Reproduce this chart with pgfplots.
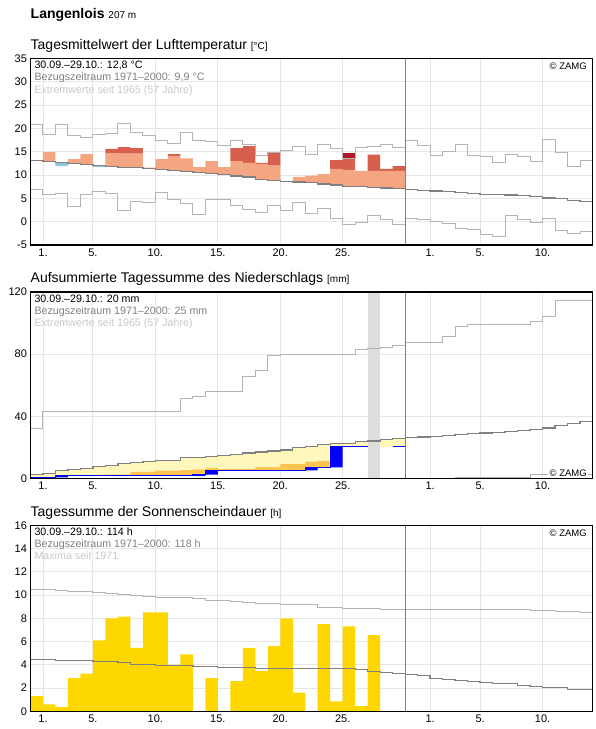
\documentclass[border=0pt]{standalone}
\usepackage{fontspec}
\setmainfont{Liberation Sans}
\usepackage{pgfplots}
\usepackage{pgfplotstable}
\pgfplotsset{compat=1.18}
\definecolor{tsal}{HTML}{F4A582}
\definecolor{tred}{HTML}{D6604D}
\definecolor{tcrim}{HTML}{B2182B}
\definecolor{tblue}{HTML}{92C5DE}
\definecolor{pyel}{HTML}{FFF7BC}
\definecolor{pora}{HTML}{FEC44F}
\definecolor{pblue}{HTML}{0000FF}
\definecolor{sun}{HTML}{FFD700}
\definecolor{meanc}{HTML}{808080}
\definecolor{extc}{HTML}{B4B4B4}
\definecolor{gridc}{HTML}{E6E6E6}
\definecolor{bandc}{HTML}{DDDDDD}
\definecolor{txtgray}{HTML}{808080}
\definecolor{txtlight}{HTML}{C8C8C8}

\pgfplotstableread{
x base blue sal red crim
-0.5 13.1 0 0 0 0
0.5 12.9 0 2.0 0 0
1.5 11.9 0.8 0 0 0
2.5 12.5 0 0.9 0 0
3.5 12.3 0 2.2 0 0
4.5 11.7 0.4 0 0 0
5.5 11.9 0 2.8 0.9 0
6.5 11.6 0 3.0 1.4 0
7.5 11.6 0 3.0 1.2 0
8.5 11.4 0 0.2 0 0
9.5 11.2 0 2.2 0 0
10.5 11.0 0 3.1 0.4 0
11.5 10.7 0 2.9 0 0
12.5 10.6 0 1.1 0 0
13.5 10.4 0 2.6 0 0
14.5 10.1 0 1.6 0 0
15.5 9.8 0 3.2 2.8 0
16.5 9.6 0 3.0 3.6 0
17.5 9.1 0 3.3 0.2 0
18.5 8.9 0 3.1 2.7 0
19.5 8.6 0 0 0 0
20.5 8.5 0 1.1 0 0
21.5 8.4 0 1.5 0 0
22.5 8.1 0 2.1 0 0
23.5 7.9 0 3.4 1.9 0
24.5 7.6 0 3.5 2.5 1.1
25.5 7.5 0 3.4 0 0
26.5 7.4 0 3.5 3.5 0
27.5 7.2 0 3.7 0.4 0
28.5 7.1 0 3.8 1.0 0
}\tempbars

\pgfplotstableread{
x base blue ora yel
-0.5 0 0.7 0 1.9
0.5 0.7 0 0 2.3
1.5 0.7 1.0 0 3.5
2.5 1.7 0 0 4.1
3.5 1.7 0 0 4.8
4.5 1.7 0 0 5.9
5.5 1.7 0 0.9 5.6
6.5 1.7 0 0.9 6.9
7.5 1.7 0 2.6 6.1
8.5 1.7 0 2.6 6.7
9.5 1.7 0 3.3 6.7
10.5 1.7 0 3.3 6.7
11.5 1.7 0 3.7 8.2
12.5 1.7 0.8 3.3 7.8
13.5 2.5 2.7 1.7 7.4
14.5 5.2 0 0.9 8.8
15.5 5.2 0 0.9 9.5
16.5 5.2 0 0.9 10.3
17.5 5.2 0 2.1 9.7
18.5 5.2 0 2.1 10.4
19.5 5.2 0 4.0 9.2
20.5 5.2 0 4.0 10.9
21.5 5.2 1.9 3.7 10.0
22.5 7.1 0 4.2 10.5
23.5 7.1 13.3 0 2.3
24.5 20.4 0 0 2.3
25.5 20.4 0 0 3.2
26.5 20.4 0 0 0
27.5 20.4 0 0 4.9
28.5 20.4 0 0 5.5
}\precbars

\pgfplotstableread{
x sun
-0.5 1.3
0.5 0.6
1.5 0.35
2.5 2.85
3.5 3.25
4.5 6.1
5.5 8.0
6.5 8.15
7.5 5.45
8.5 8.5
9.5 8.5
10.5 4.0
11.5 4.9
12.5 0
13.5 2.85
14.5 0
15.5 2.6
16.5 5.45
17.5 3.45
18.5 5.6
19.5 8.0
20.5 1.6
21.5 0
22.5 7.5
23.5 0.85
24.5 7.3
25.5 0.45
26.5 6.55
27.5 0
28.5 0
}\sunbars

\pgfplotsset{
 panelA/.style={
  scale only axis, width=562pt, height=186.5pt,
  xmin=-1, xmax=44, enlargelimits=false, anchor=south west,
  xtick={0,4,9,14,19,24,31,35,40},
  xticklabels={1.,5.,10.,15.,20.,25.,1.,5.,10.},
  major tick length=0pt, tick style={draw=none},
  grid=major, grid style={draw=gridc, line width=0.9pt},
  axis line style={draw=none},
  tick label style={font=\fontsize{11}{13}\selectfont},
  /pgf/number format/assume math mode=true,
 },
 panelB/.style={
  scale only axis, width=562pt, height=186.5pt,
  xmin=-1, xmax=44, enlargelimits=false, anchor=south west,
  xtick=\empty, ytick=\empty,
  axis line style={line width=1.2pt},
  axis on top,
 },
}

\begin{document}
\begin{tikzpicture}
\useasboundingbox (0,0) rectangle (596pt,729pt);

% ---------------- Temperature ----------------
\begin{axis}[panelA, at={(30.5pt,484pt)}, ymin=-5, ymax=35, ytick={-5,0,...,35},
  ybar stacked, bar width=1]
\addplot[draw=none, fill=none] table[x=x,y=base]{\tempbars};
\addplot[draw=none, fill=tblue] table[x=x,y=blue]{\tempbars};
\addplot[draw=none, fill=tsal] table[x=x,y=sal]{\tempbars};
\addplot[draw=none, fill=tred] table[x=x,y=red]{\tempbars};
\addplot[draw=none, fill=tcrim] table[x=x,y=crim]{\tempbars};
\end{axis}
\begin{axis}[panelB, at={(30.5pt,484pt)}, ymin=-5, ymax=35]
\addplot[const plot, extc, line width=1pt] coordinates {(-1,20.9) (0,18.6) (1,20.9) (2,18.4) (3,18.1) (4,18.6) (5,18.9) (6,21.1) (7,19.1) (8,18.4) (9,17.5) (10,16.8) (11,19.1) (12,17.5) (13,17.3) (14,16.4) (15,17.5) (16,16.6) (17,14.3) (18,14.9) (19,15.3) (20,16.1) (21,14.4) (22,16.6) (23,15.7) (24,13.6) (25,15.9) (26,16.2) (27,16.6) (28,15.9) (29,17.5) (30,16.4) (31,14.2) (32,15.1) (33,16.6) (34,14.2) (35,13.9) (36,12.7) (37,14.4) (38,13.9) (39,13.0) (40,17.6) (41,14.9) (42,11.9) (43,13.2) (44,13.2)};
\addplot[const plot, extc, line width=1pt] coordinates {(-1,6.9) (0,5.9) (1,6.1) (2,3.3) (3,5.9) (4,6.4) (5,6.1) (6,2.5) (7,4.4) (8,4.1) (9,6.3) (10,4.8) (11,3.9) (12,1.6) (13,4.8) (14,4.8) (15,3.4) (16,2.6) (17,2.0) (18,3.4) (19,2.3) (20,4.1) (21,1.8) (22,2.9) (23,0.7) (24,-0.7) (25,-0.1) (26,1.4) (27,0.4) (28,-0.7) (29,0.7) (30,0.5) (31,0.0) (32,-0.4) (33,-1.4) (34,-1.6) (35,-2.7) (36,-3.1) (37,1.4) (38,0.5) (39,-0.1) (40,0.7) (41,-1.8) (42,-2.5) (43,-2.1) (44,-2.1)};
\addplot[const plot, meanc, line width=1.3pt] coordinates {(-1,13.1) (0,12.9) (1,12.7) (2,12.5) (3,12.3) (4,12.1) (5,11.9) (6,11.6) (8,11.4) (9,11.2) (10,11.0) (11,10.7) (12,10.6) (13,10.4) (14,10.1) (15,9.8) (16,9.6) (17,9.1) (18,8.9) (19,8.6) (20,8.5) (21,8.4) (22,8.1) (23,7.9) (24,7.6) (25,7.5) (26,7.4) (27,7.2) (28,7.1) (29,6.9) (30,6.7) (31,6.6) (32,6.4) (33,6.2) (34,6.1) (35,5.9) (37,5.7) (38,5.6) (39,5.4) (40,5.1) (41,5.0) (42,4.6) (43,4.4) (44,4.4)};
\addplot[meanc, line width=1pt] coordinates {(29,-5) (29,35)};
\end{axis}

% ---------------- Precipitation ----------------
\begin{axis}[panelA, at={(30.5pt,250.5pt)}, ymin=0, ymax=120, ytick={0,40,80,120},
  ybar stacked, bar width=1]
\addplot[draw=none, fill=none] table[x=x,y=base]{\precbars};
\addplot[draw=none, fill=pblue] table[x=x,y=blue]{\precbars};
\addplot[draw=none, fill=pora] table[x=x,y=ora]{\precbars};
\addplot[draw=none, fill=pyel] table[x=x,y=yel]{\precbars};
\end{axis}
\begin{axis}[panelB, at={(30.5pt,250.5pt)}, ymin=0, ymax=120]
\addplot[fill=bandc, draw=none] coordinates {(26,0) (27,0) (27,120) (26,120)} -- cycle;
\addplot[const plot, pblue, line width=1pt] coordinates {(-1,0.7) (1,1.7) (12,2.5) (13,5.2) (21,7.1) (23,20.4) (26,20.4)};
\addplot[const plot, pblue, line width=1pt] coordinates {(28,20.4) (29,20.4)};
\addplot[const plot, extc, line width=1pt] coordinates {(-1,32.4) (0,42.8) (11,51.2) (12,53.0) (13,56.2) (16,65.9) (17,69.6) (18,78.9) (19,79.8) (25,83.2) (26,83.7) (27,84.3) (28,85.8) (29,87.6) (32,91.5) (33,97.7) (34,98.8) (39,101) (40,104.2) (41,114.6) (44,114.6)};
\addplot[const plot, extc, line width=1pt] coordinates {(-1,0) (33,0.6) (39,2.6) (44,2.6)};
\addplot[const plot, meanc, line width=1.3pt] coordinates {(-1,2.6) (0,3.0) (1,5.2) (2,5.8) (3,6.5) (4,7.6) (5,8.2) (6,9.5) (7,10.4) (8,11.0) (9,11.7) (11,13.6) (13,14.3) (14,14.9) (15,15.6) (16,16.4) (17,17.0) (18,17.7) (19,18.4) (20,20.1) (21,20.8) (22,21.8) (23,22.7) (25,23.6) (26,24.2) (27,25.3) (28,25.9) (29,26.4) (30,26.7) (31,27.2) (32,27.7) (33,28.1) (34,28.8) (35,29.2) (36,29.8) (37,30.3) (38,30.9) (39,31.4) (40,32.4) (41,34.2) (42,35.2) (43,36.8) (44,36.8)};
\addplot[meanc, line width=1pt] coordinates {(29,0) (29,120)};
\end{axis}

% ---------------- Sunshine ----------------
\begin{axis}[panelA, at={(30.5pt,17.7pt)}, height=186pt, ymin=0, ymax=16, ytick={0,2,...,16}]
\addplot[ybar, bar width=1, bar shift=0pt, fill=sun, draw=none] table[x=x,y=sun]{\sunbars};
\end{axis}
\begin{axis}[panelB, at={(30.5pt,17.7pt)}, height=186pt, ymin=0, ymax=16]
\addplot[const plot, extc, line width=1pt] coordinates {(-1,10.46) (1,10.4) (2,10.3) (4,10.2) (5,10.1) (6,10.03) (7,9.97) (8,9.9) (9,9.83) (10,9.77) (12,9.68) (13,9.54) (15,9.46) (16,9.34) (17,9.31) (18,9.26) (19,9.2) (20,9.15) (22,8.97) (24,8.88) (27,8.77) (39,8.68) (41,8.6) (43,8.48) (44,8.48)};
\addplot[const plot, meanc, line width=1.3pt] coordinates {(-1,4.45) (1,4.36) (4,4.27) (6,4.18) (7,4.04) (9,3.95) (12,3.87) (14,3.75) (17,3.67) (25,3.58) (26,3.44) (27,3.32) (28,3.24) (29,3.18) (30,3.09) (31,2.84) (32,2.75) (33,2.66) (34,2.55) (35,2.46) (36,2.38) (38,2.23) (39,2.15) (40,2.03) (42,1.89) (44,1.89)};
\addplot[meanc, line width=1pt] coordinates {(29,0) (29,16)};
\end{axis}

% ---------------- Texts ----------------
\node[anchor=base west, inner sep=0pt] at (30.5pt,710.5pt) {\fontsize{14}{16}\selectfont\bfseries Langenlois\ \fontsize{10}{12}\selectfont\mdseries 207 m};

\node[anchor=base west, inner sep=0pt] at (30.5pt,679.7pt) {\fontsize{14}{16}\selectfont Tagesmittelwert der Lufttemperatur \fontsize{10}{12}\selectfont[°C]};
\node[anchor=base west, inner sep=0pt] at (30.5pt,446.2pt) {\fontsize{14}{16}\selectfont Aufsummierte Tagessumme des Niederschlags \fontsize{10}{12}\selectfont[mm]};
\node[anchor=base west, inner sep=0pt] at (30.5pt,212.9pt) {\fontsize{14}{16}\selectfont Tagessumme der Sonnenscheindauer \fontsize{10}{12}\selectfont[h]};

\begin{scope}[every node/.style={anchor=base west, inner sep=0pt, font=\fontsize{10.7}{12}\selectfont}]
\node at (34.3pt,660.2pt) {30.09.–29.10.: 12,8 °C};
\node[text=txtgray] at (34.3pt,648pt) {Bezugszeitraum 1971–2000: 9,9 °C};
\node[text=txtlight] at (34.3pt,635.8pt) {Extremwerte seit 1965 (57 Jahre)};
\node at (34.3pt,426.7pt) {30.09.–29.10.: 20 mm};
\node[text=txtgray] at (34.3pt,414.5pt) {Bezugszeitraum 1971–2000: 25 mm};
\node[text=txtlight] at (34.3pt,402.3pt) {Extremwerte seit 1965 (57 Jahre)};
\node at (34.3pt,193.4pt) {30.09.–29.10.: 114 h};
\node[text=txtgray] at (34.3pt,181.2pt) {Bezugszeitraum 1971–2000: 118 h};
\node[text=txtlight] at (34.3pt,169pt) {Maxima seit 1971};
\end{scope}

\begin{scope}[every node/.style={anchor=base east, font=\fontsize{9.5}{11}\selectfont}]
\node[inner sep=0pt] at (587pt,659.7pt) {© ZAMG};
\node[fill=white, inner sep=1.5pt] at (588.5pt,252.7pt) {© ZAMG};
\node[inner sep=0pt] at (587pt,192.4pt) {© ZAMG};
\end{scope}
\end{tikzpicture}
\end{document}
